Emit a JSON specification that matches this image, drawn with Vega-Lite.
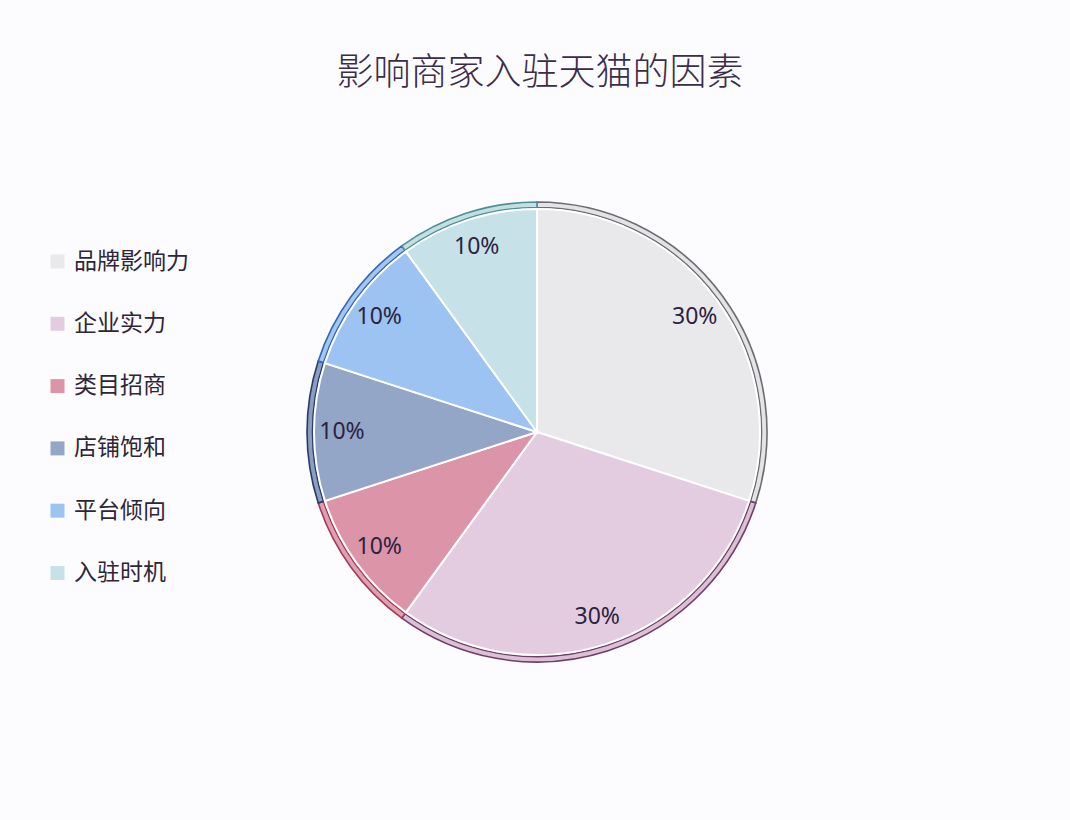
{
  "$schema": "https://vega.github.io/schema/vega-lite/v6.json",
  "autosize": "none",
  "width": 1066,
  "height": 776,
  "padding": {"left": 4, "top": 44, "right": 0, "bottom": 0},
  "background": "#fcfcfe",
  "title": {
    "text": "影响商家入驻天猫的因素",
    "font": "Noto Sans CJK SC",
    "fontSize": 37,
    "fontWeight": 300,
    "color": "#3b2d4a",
    "anchor": "middle",
    "baseline": "middle",
    "offset": 0,
    "dy": 67,
    "dx": 3
  },
  "data": {
    "values": [
      {"factor": "品牌影响力", "share": 30, "label": "30%", "idx": 1},
      {"factor": "企业实力", "share": 30, "label": "30%", "idx": 2},
      {"factor": "类目招商", "share": 10, "label": "10%", "idx": 3},
      {"factor": "店铺饱和", "share": 10, "label": "10%", "idx": 4},
      {"factor": "平台倾向", "share": 10, "label": "10%", "idx": 5},
      {"factor": "入驻时机", "share": 10, "label": "10%", "idx": 6}
    ]
  },
  "encoding": {
    "theta": {"field": "share", "type": "quantitative", "stack": true},
    "order": {"field": "idx", "type": "quantitative"}
  },
  "layer": [
    {
      "mark": {"type": "arc", "radius": 230, "radius2": 224.5, "strokeWidth": 1.6},
      "encoding": {
        "fill": {
          "field": "factor",
          "type": "nominal",
          "legend": null,
          "scale": {
            "domain": ["品牌影响力", "企业实力", "类目招商", "店铺饱和", "平台倾向", "入驻时机"],
            "range": ["#e4e4e8", "#dcc0d6", "#e0a0b2", "#8c9ec0", "#a4c6f0", "#c2e0e4"]
          }
        },
        "stroke": {
          "field": "factor",
          "type": "nominal",
          "legend": null,
          "scale": {
            "domain": ["品牌影响力", "企业实力", "类目招商", "店铺饱和", "平台倾向", "入驻时机"],
            "range": ["#6c6c70", "#6e3f66", "#a33a5c", "#253a68", "#3467b8", "#4f8e95"]
          }
        }
      }
    },
    {
      "mark": {"type": "arc", "radius": 223, "stroke": "#ffffff", "strokeWidth": 2},
      "encoding": {
        "color": {
          "field": "factor",
          "type": "nominal",
          "scale": {
            "domain": ["品牌影响力", "企业实力", "类目招商", "店铺饱和", "平台倾向", "入驻时机"],
            "range": ["#e9e9ec", "#e4cce0", "#dc94a9", "#93a6c8", "#9cc3f1", "#c6e2e8"]
          },
          "legend": {
            "title": null,
            "orient": "none",
            "legendX": 42,
            "legendY": 206,
            "symbolType": "square",
            "symbolSize": 196,
            "symbolStrokeWidth": 0,
            "labelFont": "Noto Sans CJK SC",
            "labelFontSize": 23,
            "labelColor": "#2e2638",
            "labelOffset": 5,
            "rowPadding": 38.3
          }
        }
      }
    },
    {
      "mark": {"type": "text", "radius": 195, "font": "Noto Sans", "fontSize": 23, "color": "#2a2342"},
      "encoding": {
        "text": {"field": "label", "type": "nominal"}
      }
    }
  ],
  "resolve": {"legend": {"color": "independent", "fill": "independent", "stroke": "independent"}},
  "config": {
    "view": {"stroke": null}
  }
}
